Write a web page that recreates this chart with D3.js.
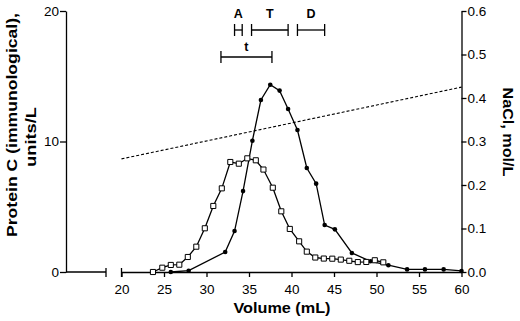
<!DOCTYPE html>
<html>
<head>
<meta charset="utf-8">
<script src="https://cdn.jsdelivr.net/npm/d3@7"></script>
<style>
  body { margin: 0; background: #fff; }
  text { font-family: 'Liberation Sans', Arial, sans-serif; fill: #000; }
</style>
</head>
<body>
<div id="chart"></div>
<script>
// protein C antigen (open squares), volume in mL vs units/L
const squareVolume = [23.7, 24.8, 25.8, 26.8, 27.8, 28.8, 29.8, 30.8, 31.8, 32.8, 33.8, 34.8, 35.8, 36.7,
    37.8, 38.8, 39.8, 40.9, 41.8, 42.8, 43.8, 44.8, 45.8, 46.8, 47.8, 48.8, 49.8, 50.8];
const squareValue = [0.0, 0.33, 0.54, 0.56, 1.15, 1.94, 3.35, 5.06, 6.41, 8.43, 8.3, 8.71, 8.56, 7.85,
    6.46, 4.65, 3.3, 2.35, 1.56, 1.11, 1.03, 1.02, 0.95, 0.86, 0.76, 0.77, 0.9, 0.74];

// second trace (filled dots)
const dotVolume = [25.8, 27.9, 32.2, 33.3, 34.3, 35.4, 36.4, 37.5, 38.6, 39.6, 40.7, 41.8, 42.9, 43.9,
    45.1, 47.1, 49.3, 51.4, 53.6, 55.7, 57.9, 60.0];
const dotValue = [0.0, 0.1, 1.53, 3.14, 6.2, 10.06, 13.18, 14.35, 13.9, 12.49, 10.88, 7.97, 6.77, 3.6,
    3.27, 1.46, 0.82, 0.52, 0.2, 0.2, 0.2, 0.08];

// NaCl gradient (dashed), mol/L
const saltVolume = [20, 60];
const saltValue = [0.26, 0.425];

// pooled fractions shown as brackets above the peak
const poolNames = ['A', 'T', 'D', 't'];
const poolFrom = [33.3, 35.3, 40.7, 31.7];
const poolTo = [34.2, 39.6, 43.9, 37.7];
const poolRow = [0, 0, 0, 1];

const xTicks = [20, 25, 30, 35, 40, 45, 50, 55, 60];
const yLeftTicks = [0, 10, 20];
const yRightTicks = [0, 0.1, 0.2, 0.3, 0.4, 0.5, 0.6];

const W = 520, H = 321;
const plotLeft = 66, plotRight = 461.5, plotTop = 11, plotBottom = 272;
const breakEnd = 106; // end of the short stub before the axis break

const x = d3.scaleLinear().domain([20, 60]).range([121.5, plotRight]);
const yL = d3.scaleLinear().domain([0, 20]).range([plotBottom, plotTop]);
const yR = d3.scaleLinear().domain([0, 0.6]).range([plotBottom, plotTop]);

const svg = d3.select('#chart').append('svg')
    .attr('width', W)
    .attr('height', H);

// axes
const gx = svg.append('g')
    .attr('transform', `translate(0, ${plotBottom})`)
    .call(d3.axisBottom(x).tickValues(xTicks).tickSize(5).tickSizeOuter(0).tickPadding(7));

const gl = svg.append('g')
    .attr('transform', `translate(${plotLeft}, 0)`)
    .call(d3.axisLeft(yL).tickValues(yLeftTicks).tickSize(6).tickSizeOuter(0).tickPadding(1));

const gr = svg.append('g')
    .attr('transform', `translate(${plotRight}, 0)`)
    .call(d3.axisRight(yR).tickValues(yRightTicks).tickSize(5).tickSizeOuter(0).tickPadding(1)
        .tickFormat(d3.format('.1f')));

[gx, gl, gr].forEach(g => {
    g.selectAll('path, line').attr('stroke', '#000').attr('stroke-width', 1.3);
    g.selectAll('text').style('font-size', '13.5px').style('font-family', "'Liberation Sans', Arial, sans-serif");
});

// axis break: stub from left axis, then tick at 20
svg.append('line')
    .attr('x1', plotLeft).attr('x2', breakEnd)
    .attr('y1', plotBottom).attr('y2', plotBottom)
    .attr('stroke', '#000').attr('stroke-width', 1.3);
[breakEnd, x(20)].forEach(px => {
    svg.append('line')
        .attr('x1', px).attr('x2', px)
        .attr('y1', plotBottom - 4).attr('y2', plotBottom + 5)
        .attr('stroke', '#000').attr('stroke-width', 1.3);
});

// NaCl gradient
svg.append('path')
    .datum(d3.zip(saltVolume, saltValue))
    .attr('fill', 'none')
    .attr('stroke', '#000')
    .attr('stroke-width', 1.1)
    .attr('stroke-dasharray', '3,2')
    .attr('d', d3.line().x(d => x(d[0])).y(d => yR(d[1])));

const line = d3.line().x(d => x(d[0])).y(d => yL(d[1]));

// dot trace
const dots = d3.zip(dotVolume, dotValue);
svg.append('path')
    .datum(dots)
    .attr('fill', 'none')
    .attr('stroke', '#000')
    .attr('stroke-width', 1.3)
    .attr('d', line);
svg.selectAll('.dot')
    .data(dots)
    .join('circle')
    .attr('class', 'dot')
    .attr('cx', d => x(d[0]))
    .attr('cy', d => yL(d[1]))
    .attr('r', 2.3)
    .attr('fill', '#000');

// square trace
const squares = d3.zip(squareVolume, squareValue);
svg.append('path')
    .datum(squares)
    .attr('fill', 'none')
    .attr('stroke', '#000')
    .attr('stroke-width', 1.3)
    .attr('d', line);
svg.selectAll('.sq')
    .data(squares)
    .join('path')
    .attr('class', 'sq')
    .attr('transform', d => `translate(${x(d[0])}, ${yL(d[1])})`)
    .attr('d', d3.symbol(d3.symbolSquare, 26))
    .attr('fill', '#fff')
    .attr('stroke', '#000')
    .attr('stroke-width', 1);

// pool brackets
const rowY = [30, 57];
const rowLabelY = [18, 51];
poolNames.forEach((name, i) => {
    const y = rowY[poolRow[i]];
    const g = svg.append('g').attr('stroke', '#000').attr('stroke-width', 1.3);
    g.append('line').attr('x1', x(poolFrom[i])).attr('x2', x(poolTo[i])).attr('y1', y).attr('y2', y);
    [poolFrom[i], poolTo[i]].forEach(v => {
        g.append('line').attr('x1', x(v)).attr('x2', x(v)).attr('y1', y - 6).attr('y2', y + 6);
    });
    svg.append('text')
        .attr('x', x((poolFrom[i] + poolTo[i]) / 2))
        .attr('y', rowLabelY[poolRow[i]])
        .attr('text-anchor', 'middle')
        .style('font-size', '12.5px')
        .style('font-weight', 700)
        .text(name);
});

// axis titles (stretched to the reference lengths)
function title(txt, transform, size, len) {
    svg.append('text')
        .attr('transform', transform)
        .attr('text-anchor', 'middle')
        .attr('textLength', len)
        .attr('lengthAdjust', 'spacingAndGlyphs')
        .style('font-size', size + 'px')
        .style('font-weight', 700)
        .text(txt);
}
title('Protein C (immunological),', 'translate(17, 125) rotate(-90)', 15.5, 224);
title('units/L', 'translate(36, 137) rotate(-90)', 15.5, 60);
title('NaCl, mol/L', 'translate(503, 132) rotate(90)', 15, 89);
title('Volume (mL)', 'translate(282, 312.5)', 15, 97);
</script>
</body>
</html>
